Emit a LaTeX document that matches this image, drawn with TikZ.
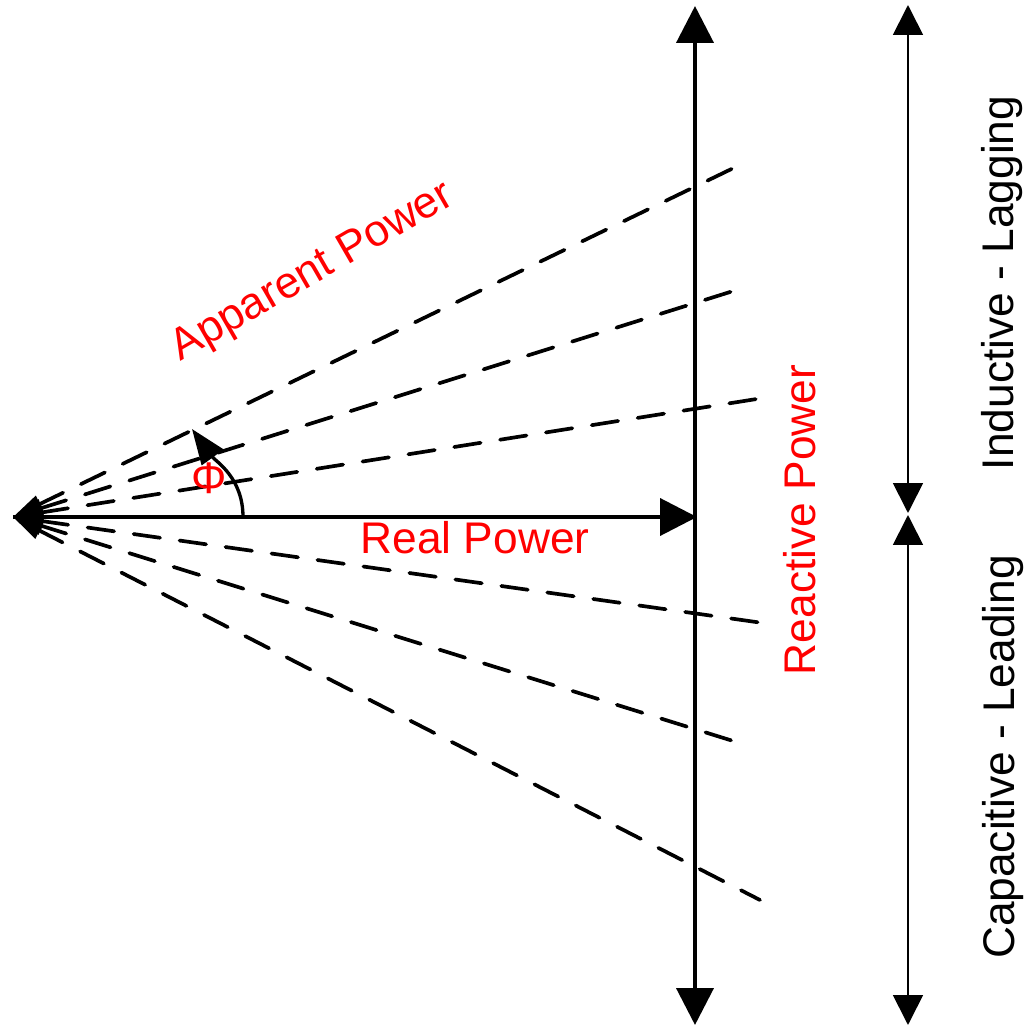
\documentclass[tikz,border=0pt]{standalone}
\usepackage{fontspec}
\setmainfont{Liberation Sans}
\usetikzlibrary{arrows.meta}
\begin{document}
\begin{tikzpicture}[x=0.01cm,y=0.01cm,
  every node/.style={font=\fontsize{12.6}{15}\selectfont,inner sep=0pt},
  axis/.style={line width=1.15pt},
  ray/.style={line width=1.05pt,line cap=round,dash pattern=on 7.6pt off 5.6pt,
    {Triangle[width=5pt,length=8.5pt]}-},
  band/.style={line width=0.5pt,
    {Triangle[width=8.5pt,length=8.5pt]}-{Triangle[width=8.5pt,length=8.5pt]}},
  lbl/.style={text=red}]
\useasboundingbox (0,0) rectangle (1025,1026);
% origin, axis ends
\coordinate (O) at (13,509);
\coordinate (P) at (697,509);
\coordinate (qtop) at (695,1020);
\coordinate (qbot) at (695,1);
% power factor rays, all starting at the origin
\foreach \x/\y [count=\i] in {748/865,746/739,763/628,763/403,746/281,760/126} {
  \coordinate (r\i) at (\x,\y);
  \draw[ray] (O) -- (r\i);
}
% real and reactive axes
\draw[axis,-{Triangle[width=10.5pt,length=10.5pt]}] (O) -- (P);
\draw[axis,{Triangle[width=10.5pt,length=10.5pt]}-{Triangle[width=10.5pt,length=10.5pt]}] (qbot) -- (qtop);
% angle phi
\coordinate (phiA) at (243,509);
\coordinate (phiB) at (192,597);
\draw[line width=0.95pt,-{Triangle[width=7.5pt,length=10pt]}] (phiA) to[out=90,in=-54] (phiB);
% lagging / leading ranges
\coordinate (ltop) at (908,1021);
\coordinate (lmidA) at (908,513);
\coordinate (lmidB) at (908,511);
\coordinate (lbot) at (908,1);
\draw[band] (lmidA) -- (ltop);
\draw[band] (lbot) -- (lmidB);
% labels
\node[lbl,rotate=30] (app) at (313,753) {Apparent Power};
\node[lbl] (phi) at (209,548) {Φ};
\node[lbl,anchor=base] (real) at (475,472) {Real Power};
\node[lbl,rotate=90,anchor=base] (reac) at (815,506) {Reactive Power};
\node[rotate=90,anchor=base] (ind) at (1014,743) {Inductive - Lagging};
\node[rotate=90,anchor=base] (cap) at (1015,269) {Capacitive - Leading};
\end{tikzpicture}
\end{document}
